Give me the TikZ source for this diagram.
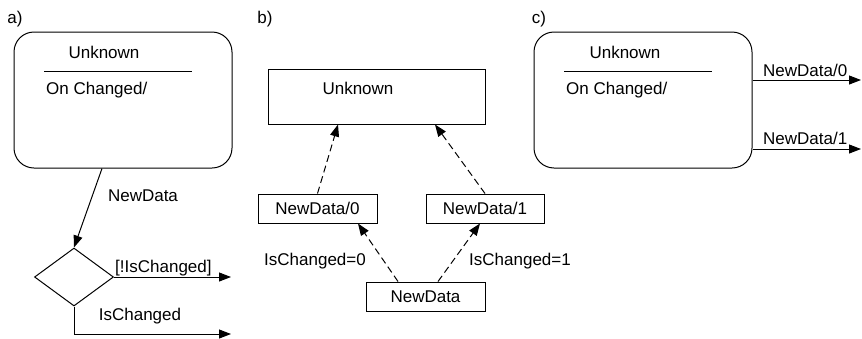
\documentclass[tikz,border=0pt]{standalone}
\usepackage{fontspec}
\setmainfont{Liberation Sans}
\usetikzlibrary{arrows.meta,shapes.geometric}
\begin{document}
\begin{tikzpicture}[x=1pt,y=-1pt,
  every node/.style={font=\fontsize{17}{19}\selectfont, inner sep=0pt},
  state/.style={draw, line width=1pt, rounded corners=20pt, minimum width=218pt, minimum height=136pt},
  rbox/.style={draw, line width=1pt},
  arr/.style={line width=1pt, -{Triangle[length=12pt,width=9pt]}},
  darr/.style={arr, dash pattern=on 7pt off 4pt}]
\useasboundingbox (0,0) rectangle (862,338);
% ---------- a)
\node (la) at (15,19) {a)};
\node[state] (ua) at (123,100) {};
\node (ua1) at (104,52) {Unknown};
\coordinate (ual) at (44,71);
\coordinate (uar) at (192,71);
\draw[line width=1pt] (ual) -- (uar);
\node[anchor=west] (ua2) at (46,90) {On Changed/};
\node[draw, line width=1pt, shape=diamond, minimum width=79pt, minimum height=58pt] (dia) at (74,277) {};
\draw[arr] ([xshift=-21pt]ua.south) -- (dia.north);
\node (nda) at (143,196) {NewData};
\coordinate (e1) at (231,277);
\coordinate (e2) at (231,334);
\draw[arr] (dia.east) -- (e1);
\node[anchor=south west] (lnc) at (115,276) {[!IsChanged]};
\draw[arr] (dia.south) |- (e2);
\node (lic) at (140,316) {IsChanged};
% ---------- b)
\node (lb) at (265,19) {b)};
\node[rbox, minimum width=217pt, minimum height=55pt] (ub) at (376.5,96.5) {};
\node (ub1) at (358,88) {Unknown};
\node[rbox, minimum width=119pt, minimum height=29pt] (n0) at (317.5,208.5) {NewData/0};
\node[rbox, minimum width=118pt, minimum height=29pt] (n1) at (485,208.5) {NewData/1};
\node[rbox, minimum width=119pt, minimum height=29pt] (nd) at (425.5,296.5) {NewData};
\draw[darr] (n0.north) -- ([xshift=-38.5pt]ub.south);
\draw[darr] (n1.north) -- ([xshift=58.5pt]ub.south);
\draw[darr] ([xshift=-27.5pt]nd.north) -- ([xshift=40.5pt]n0.south);
\draw[darr] ([xshift=12.5pt]nd.north) -- ([xshift=-5pt]n1.south);
\node (lc0) at (315,261) {IsChanged=0};
\node (lc1) at (520,261) {IsChanged=1};
% ---------- c)
\node (lcc) at (539,19) {c)};
\node[state] (uc) at (643,100) {};
\node (uc1) at (625,52) {Unknown};
\coordinate (ucl) at (564,71);
\coordinate (ucr) at (712,71);
\draw[line width=1pt] (ucl) -- (ucr);
\node[anchor=west] (uc2) at (566,90) {On Changed/};
\coordinate (c0) at (861,80);
\coordinate (c1) at (861,149);
\draw[arr] (uc.east |- c0) -- (c0);
\draw[arr] (uc.east |- c1) -- (c1);
\node[anchor=west] (lnd0) at (763,70) {NewData/0};
\node[anchor=west] (lnd1) at (763,138) {NewData/1};
\end{tikzpicture}
\end{document}
